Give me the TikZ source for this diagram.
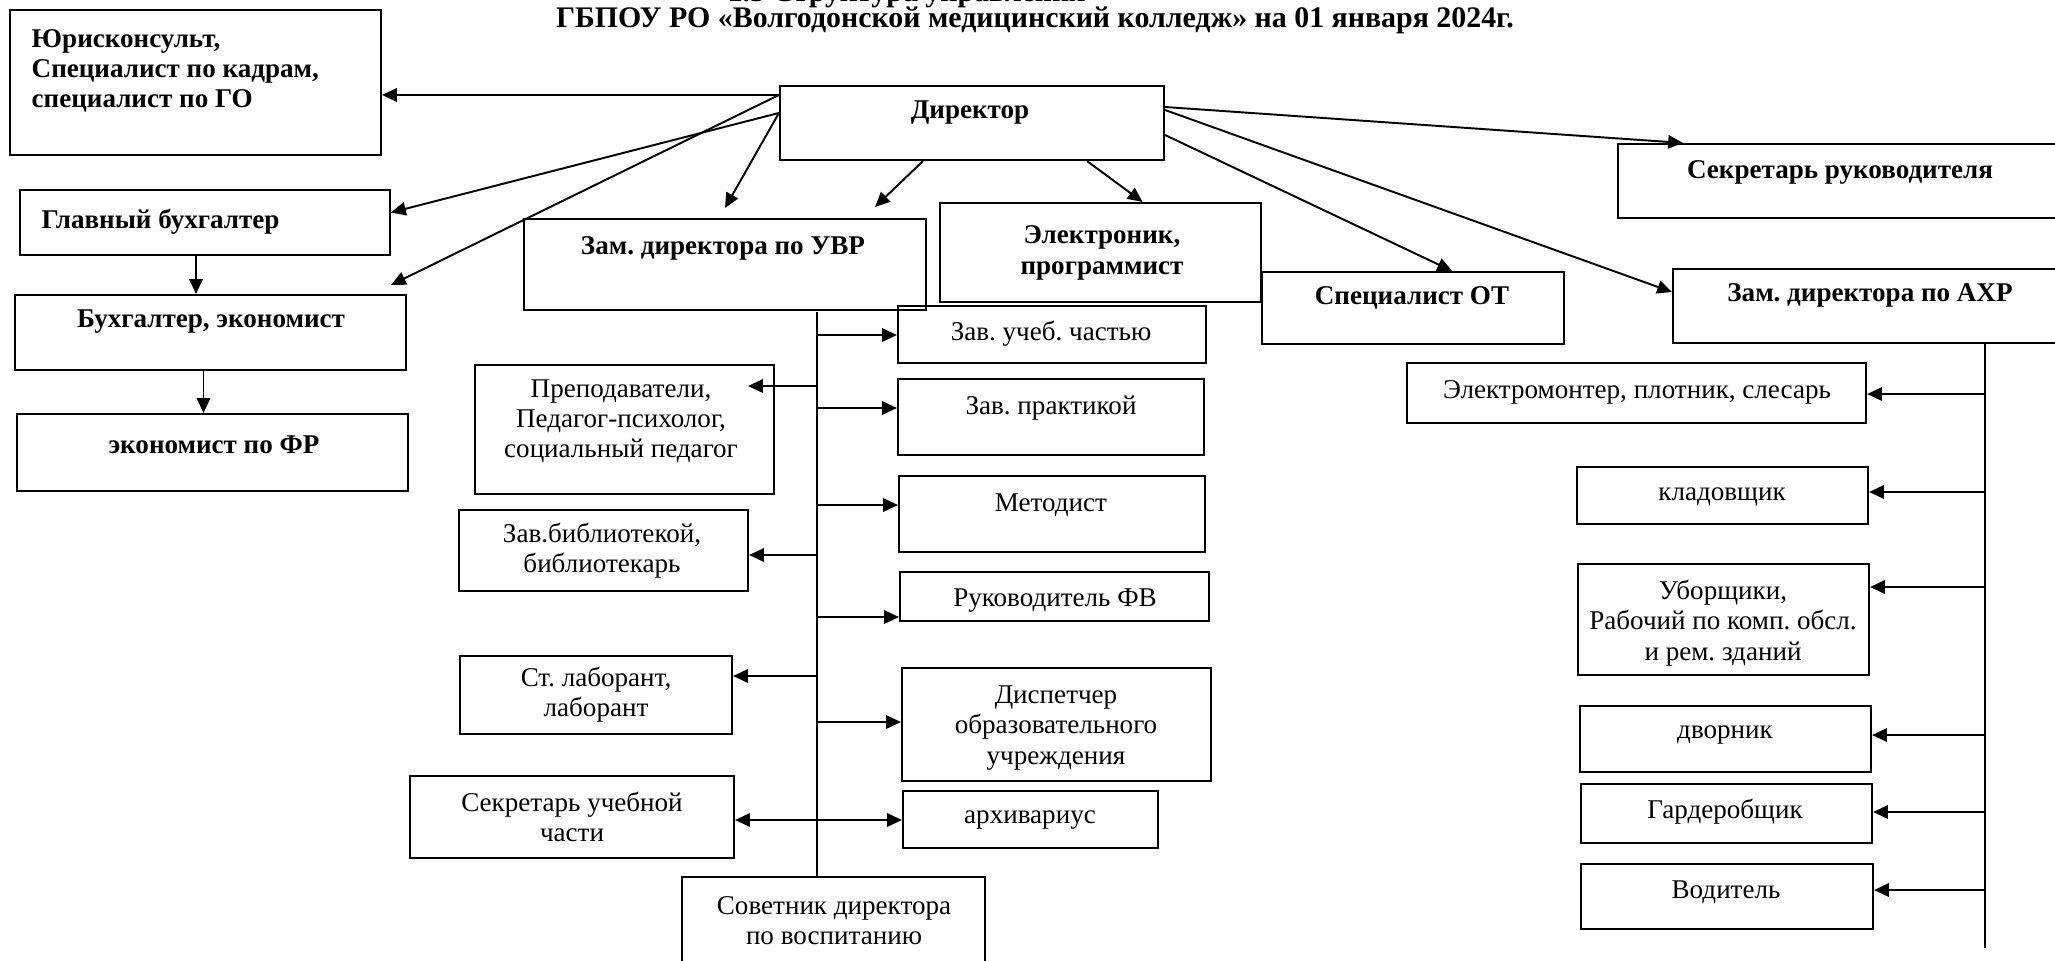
\documentclass[tikz,border=0pt]{standalone}
\usepackage{fontspec}
\setmainfont{Liberation Serif}
\usetikzlibrary{arrows.meta,fit,calc}
\frenchspacing
\pgfkeys{/pixelgrid/.code=\tikzset{x={(0.01cm,0cm)},y={(0cm,-0.01cm)}}}
\tikzset{
  frame/.style={draw, line width=0.6pt, inner sep=0pt},
  txt/.style={font=\fontsize{7.7}{8.6}\selectfont, align=center, inner sep=0pt},
  btxt/.style={txt, font=\fontsize{7.7}{8.6}\selectfont\bfseries},
  ttl/.style={font=\fontsize{8.5}{9.5}\selectfont\bfseries, inner sep=0pt},
  arr/.style={-{Triangle[length=4.2pt,width=3.8pt]}, line width=0.55pt},
  arrs/.style={{Triangle[length=4.2pt,width=3.8pt]}-{Triangle[length=4.2pt,width=3.8pt]}, line width=0.55pt},
}
\newcommand{\orgbox}[6][txt]{%
  \node[frame, fit={(#3) (#4)}] (#2) {};%
  \node[#1] (#2-t) at (#5) {#6};%
}

\begin{document}
\begin{tikzpicture}[/pixelgrid]
    \useasboundingbox (0,0) rectangle (2055,960);

    % title
    \node[ttl, anchor=base west] (title1) at (727,1) {1.5 Структура управления};
    \node[ttl, anchor=base] (title2) at (1035,27) {ГБПОУ РО «Волгодонской медицинский колледж» на 01 января 2024г.};

    % top level
    \orgbox[btxt,anchor=west,align=left]{jur}{10,10}{381,155}{31,71}{Юрисконсульт,\\Специалист по кадрам,\\специалист по ГО}
    \orgbox[btxt]{dir}{780,86}{1164,160}{970,113}{Директор}
    \orgbox[btxt,anchor=west]{glb}{20,190}{390,255}{41,222}{Главный бухгалтер}
    \orgbox[btxt]{bukh}{15,295}{406,370}{211,322}{Бухгалтер, экономист}
    \orgbox[btxt]{ekon}{17,414}{408,491}{214,445}{экономист по ФР}
    \orgbox[btxt]{uvr}{524,219}{926,310}{723,248}{Зам. директора по УВР}
    \orgbox[btxt]{elec}{940,203}{1261,302}{1102,253}{Электроник,\\программист}
    \orgbox[btxt]{spot}{1262,272}{1564,344}{1412,298}{Специалист ОТ}
    \orgbox[btxt]{sekr}{1618,144}{2070,218}{1840,172}{Секретарь руководителя}
    \orgbox[btxt]{ahr}{1673,269}{2070,343}{1870,295}{Зам. директора по АХР}

    % under UVR
    \orgbox{zuch}{898,306}{1206,363}{1051,334}{Зав. учеб. частью}
    \orgbox{zprak}{898,379}{1204,455}{1051,408}{Зав. практикой}
    \orgbox{metod}{899,476}{1205,552}{1051,505}{Методист}
    \orgbox{fv}{900,572}{1209,621}{1055,601}{Руководитель ФВ}
    \orgbox{disp}{902,668}{1211,781}{1056,728}{Диспетчер\\образовательного\\учреждения}
    \orgbox{arch}{903,791}{1158,848}{1030,820}{архивариус}
    \orgbox{sov}{682,877}{985,985}{834,921}{Советник директора\\по воспитанию}
    \orgbox{prep}{475,365}{774,494}{621,421}{Преподаватели,\\Педагог-психолог,\\социальный педагог}
    \orgbox{bibl}{459,510}{748,591}{602,551}{Зав.библиотекой,\\библиотекарь}
    \orgbox{lab}{460,656}{732,734}{596,695}{Ст. лаборант,\\лаборант}
    \orgbox{suc}{410,776}{734,858}{572,817}{Секретарь учебной\\части}

    % under AHR
    \orgbox{elm}{1407,363}{1866,423}{1637,392}{Электромонтер, плотник, слесарь}
    \orgbox{klad}{1577,467}{1868,524}{1722,497}{кладовщик}
    \orgbox{ubor}{1578,564}{1869,675}{1723,623}{Уборщики,\\Рабочий по комп. обсл.\\и рем. зданий}
    \orgbox{dvor}{1580,706}{1871,772}{1725,735}{дворник}
    \orgbox{gard}{1581,784}{1872,843}{1725,812}{Гардеробщик}
    \orgbox{vod}{1581,864}{1873,929}{1726,892}{Водитель}

    % director links
    \coordinate (d1) at ([yshift=-0.1cm]dir.north west);
    \coordinate (d2) at ([yshift=-0.28cm]dir.north west);
    \draw[arr] (d1) -- (d1 -| jur.east);
    \draw[arr] (d1) -- ([xshift=-0.16cm,yshift=0.09cm]bukh.north east);
    \draw[arr] (d2) -- ([yshift=0.1cm]glb.east);
    \draw[arr] (d2) -- ([yshift=0.1cm]uvr.north);
    \draw[arr] ([xshift=-0.49cm]dir.south) -- ([xshift=-0.52cm,yshift=0.11cm]uvr.north east);
    \draw[arr] ([xshift=-0.78cm]dir.south east) -- ([xshift=0.42cm]elec.north);
    \draw[arr] ([yshift=0.16cm]dir.east) -- ([xshift=0.66cm]sekr.north west);
    \draw[arr] ([yshift=0.13cm]dir.east) -- ([yshift=0.14cm]ahr.west);
    \draw[arr] ([yshift=-0.12cm]dir.east) -- ([xshift=0.39cm]spot.north);

    % accounting
    \coordinate (g1) at ([xshift=-0.09cm]glb.south);
    \draw[arr] (g1) -- (g1 |- bukh.north);
    \coordinate (b1) at ([xshift=-0.07cm]bukh.south);
    \draw[arr] (b1) -- (b1 |- ekon.north);

    % UVR bus
    \coordinate (uvrBus) at (817,312);
    \draw[line width=0.55pt] (uvrBus) -- (uvrBus |- sov.north);
    \foreach \n/\y in {zuch/335,zprak/408,metod/505,fv/617,disp/722} {
      \coordinate (u-\n) at (817,\y);
      \draw[arr] (u-\n) -- (u-\n -| \n.west);
    }
    \foreach \n/\y in {bibl/555,lab/676} {
      \coordinate (u-\n) at (817,\y);
      \draw[arr] (u-\n) -- (u-\n -| \n.east);
    }
    \coordinate (u-prep) at (817,386);
    \draw[arr] (u-prep) -- ($(u-prep -| prep.east)+(-27,0)$);
    \coordinate (u-arch) at (817,820);
    \draw[arrs] (u-arch -| suc.east) -- (u-arch -| arch.west);

    % AHR bus
    \coordinate (ahrBus) at (1985,343);
    \coordinate (ahrEnd) at (1985,948);
    \draw[line width=0.55pt] (ahrBus) -- (ahrEnd);
    \foreach \n/\y in {elm/394,klad/492,ubor/587,dvor/735,gard/812,vod/890} {
      \coordinate (a-\n) at (1985,\y);
      \draw[arr] (a-\n) -- (a-\n -| \n.east);
    }
\end{tikzpicture}
\end{document}
